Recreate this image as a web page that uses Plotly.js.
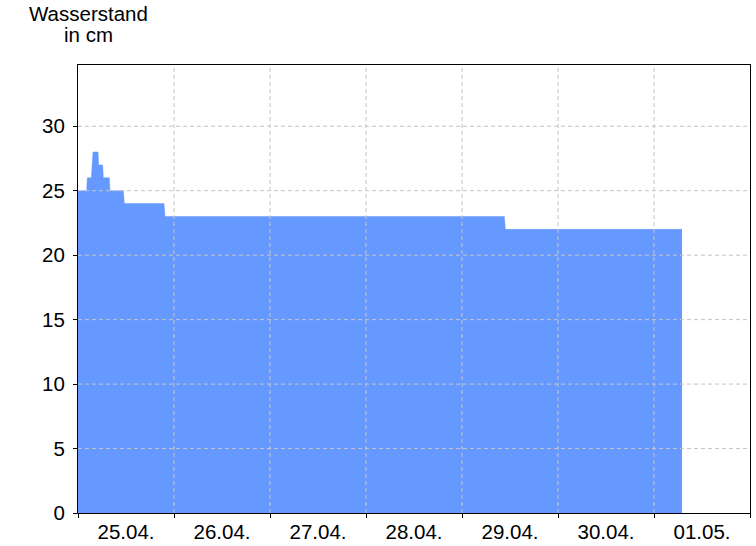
<!DOCTYPE html>
<html>
<head>
<meta charset="utf-8">
<script src="https://cdn.plot.ly/plotly-3.0.1.min.js"></script>
<style>
  html, body { margin: 0; padding: 0; background: #ffffff; }
  #chart { width: 756px; height: 546px; }
</style>
</head>
<body>
<div id="chart"></div>
<script>
// Water level (cm) – step points
var times = [
  '2024-04-25 00:00', '2024-04-25 02:10', '2024-04-25 02:20',
  '2024-04-25 03:20', '2024-04-25 03:45', '2024-04-25 05:00',
  '2024-04-25 05:10', '2024-04-25 06:10', '2024-04-25 06:20',
  '2024-04-25 07:50', '2024-04-25 08:00', '2024-04-25 11:20',
  '2024-04-25 11:35', '2024-04-25 21:30', '2024-04-25 21:45',
  '2024-04-29 10:35', '2024-04-29 10:50', '2024-05-01 07:00'
];
var levels = [25, 25, 26, 26, 28, 28, 27, 27, 26, 26, 25, 25, 24, 24, 23, 23, 22, 22];

// Axis ticks
var dayStarts = ['2024-04-25', '2024-04-26', '2024-04-27', '2024-04-28', '2024-04-29', '2024-04-30', '2024-05-01', '2024-05-02'];
var dayCenters = ['2024-04-25 12:00', '2024-04-26 12:00', '2024-04-27 12:00', '2024-04-28 12:00', '2024-04-29 12:00', '2024-04-30 12:00', '2024-05-01 12:00'];
var dayLabels = ['25.04.', '26.04.', '27.04.', '28.04.', '29.04.', '30.04.', '01.05.'];
var yTicks = [0, 5, 10, 15, 20, 25, 30];
var yTitleLines = ['Wasserstand', 'in cm'];

var FONT = 'Liberation Sans, Arial, sans-serif';
var FS = 20.5;
var gridStyle = {color: '#c4c4c4', width: 1, dash: '4px,3px'};

var shapes = [];
yTicks.forEach(function (v) {
  if (v === 0) return;
  shapes.push({type: 'line', layer: 'above', xref: 'paper', x0: 0, x1: 1, yref: 'y', y0: v, y1: v, line: gridStyle});
});
dayStarts.slice(1, dayStarts.length - 1).forEach(function (d) {
  shapes.push({type: 'line', layer: 'above', xref: 'x', x0: d, x1: d, yref: 'paper', y0: 0, y1: 1, line: gridStyle});
});

var trace = {
  type: 'scatter',
  mode: 'lines',
  x: times,
  y: levels,
  fill: 'tozeroy',
  fillcolor: '#6699ff',
  line: {color: '#6699ff', width: 0.5, shape: 'linear'},
  hoverinfo: 'x+y'
};

var layout = {
  width: 756,
  height: 546,
  margin: {l: 78, r: 6, t: 65, b: 33, pad: 0},
  paper_bgcolor: '#ffffff',
  plot_bgcolor: '#ffffff',
  showlegend: false,
  font: {family: FONT, size: FS, color: '#000000'},
  xaxis: {
    type: 'date',
    range: [dayStarts[0], dayStarts[dayStarts.length - 1]],
    tickmode: 'array',
    tickvals: dayCenters,
    ticktext: dayLabels,
    ticks: '',
    showgrid: false,
    zeroline: false,
    showline: true,
    mirror: true,
    linecolor: '#000000',
    linewidth: 1,
    tickfont: {family: FONT, size: FS, color: '#000000'},
    minor: {
      tickmode: 'array',
      tickvals: dayStarts,
      ticks: 'outside',
      ticklen: 4,
      tickwidth: 1,
      tickcolor: '#000000',
      showgrid: false
    }
  },
  yaxis: {
    range: [0, 34.75],
    tickmode: 'array',
    tickvals: yTicks,
    ticktext: yTicks.map(String),
    ticks: 'outside',
    ticklen: 4,
    tickwidth: 1,
    tickcolor: '#000000',
    ticklabelstandoff: 4,
    showgrid: false,
    zeroline: false,
    showline: true,
    mirror: true,
    linecolor: '#000000',
    linewidth: 1,
    tickfont: {family: FONT, size: FS, color: '#000000'}
  },
  shapes: shapes,
  annotations: [
    {text: yTitleLines[0], xref: 'paper', yref: 'paper', x: 0.0149, y: 1.1147, xanchor: 'center', yanchor: 'middle', showarrow: false, font: {family: FONT, size: FS, color: '#000000'}},
    {text: yTitleLines[1], xref: 'paper', yref: 'paper', x: 0.0149, y: 1.0676, xanchor: 'center', yanchor: 'middle', showarrow: false, font: {family: FONT, size: FS, color: '#000000'}}
  ]
};

Plotly.newPlot('chart', [trace], layout, {displayModeBar: false, staticPlot: true});
</script>
</body>
</html>
